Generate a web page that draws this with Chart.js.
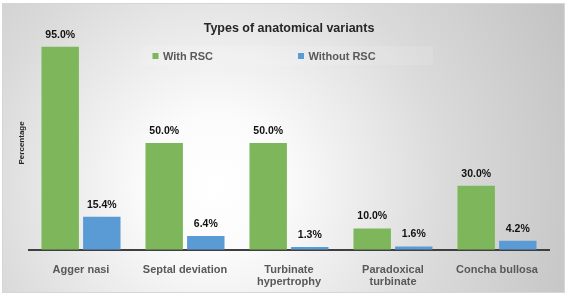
<!DOCTYPE html>
<html><head><meta charset="utf-8">
<script src="https://cdn.jsdelivr.net/npm/chart.js@4/dist/chart.umd.min.js"></script>
<style>html,body{margin:0;padding:0;background:#fff;overflow:hidden}</style>
</head><body>
<canvas id="c" width="567" height="296" style="display:block;width:567px;height:296px"></canvas>
<script>
const categories = ['Agger nasi', 'Septal deviation', ['Turbinate', 'hypertrophy'], ['Paradoxical', 'turbinate'], 'Concha bullosa'];
const withRSC = [95.0, 50.0, 50.0, 10.0, 30.0];
const withoutRSC = [15.4, 6.4, 1.3, 1.6, 4.2];
const seriesNames = ['With RSC', 'Without RSC'];
const chartTitle = 'Types of anatomical variants';
const yTitle = 'Percentage';

const FONT = "'Liberation Sans', Arial, sans-serif";
const GREEN = '#7db65b';
const BLUE = '#5b9bd5';

const bgPlugin = {
  id: 'bg',
  beforeDraw(chart) {
    const ctx = chart.ctx;
    ctx.save();
    ctx.fillStyle = '#ffffff';
    ctx.fillRect(0, 0, chart.width, chart.height);
    const g = ctx.createRadialGradient(215, 185, 0, 215, 185, 390);
    g.addColorStop(0, '#ffffff');
    g.addColorStop(0.18, '#fbfbfb');
    g.addColorStop(0.6, '#dadada');
    g.addColorStop(1, '#c3c3c3');
    ctx.fillStyle = g;
    ctx.fillRect(2, 3, 563, 290);
    ctx.strokeStyle = '#d6d6d6';
    ctx.lineWidth = 1;
    ctx.strokeRect(2.5, 3.5, 562, 289);
    ctx.restore();
  }
};

const labelPlugin = {
  id: 'vals',
  afterDatasetsDraw(chart) {
    const ctx = chart.ctx;
    ctx.save();
    ctx.font = "bold 10.5px " + FONT;
    ctx.fillStyle = '#111111';
    ctx.textAlign = 'center';
    ctx.textBaseline = 'alphabetic';
    chart.data.datasets.forEach((ds, i) => {
      const meta = chart.getDatasetMeta(i);
      meta.data.forEach((el, j) => {
        ctx.fillText(ds.data[j].toFixed(1) + '%', el.x, el.y - 9);
      });
    });
    ctx.restore();
  }
};

const legendPlugin = {
  id: 'customLegend',
  afterDraw(chart) {
    const ctx = chart.ctx;
    ctx.save();
    ctx.fillStyle = 'rgba(255,255,255,0.12)';
    ctx.fillRect(140, 46, 293, 19);
    const items = [{x: 152.5}, {x: 298}];
    ctx.font = "bold 11px " + FONT;
    ctx.textBaseline = 'middle';
    ctx.textAlign = 'left';
    chart.data.datasets.forEach((ds, i) => {
      const x = items[i].x;
      ctx.fillStyle = ds.backgroundColor;
      ctx.fillRect(x, 53, 6, 6);
      ctx.fillStyle = '#595959';
      ctx.fillText(ds.label, x + 10.5, 57);
    });
    ctx.restore();
  }
};

new Chart(document.getElementById('c'), {
  type: 'bar',
  data: {
    labels: categories,
    datasets: [
      {label: seriesNames[0], data: withRSC, backgroundColor: GREEN, borderWidth: 0},
      {label: seriesNames[1], data: withoutRSC, backgroundColor: BLUE, borderWidth: 0}
    ]
  },
  options: {
    responsive: false,
    animation: false,
    devicePixelRatio: 1,
    layout: {padding: {left: 11.4, right: 18, top: 0, bottom: -6}},
    plugins: {
      legend: {display: false},
      tooltip: {enabled: false},
      title: {
        display: true, text: chartTitle, fullSize: false,
        color: '#262626',
        font: {family: FONT, size: 12.5, weight: 'bold', lineHeight: 1.2},
        padding: {top: 21, bottom: 0}
      }
    },
    scales: {
      x: {
        categoryPercentage: 0.745,
        barPercentage: 1,
        grid: {display: false, drawTicks: false},
        border: {display: true, color: '#3f3f3f', width: 2},
        ticks: {color: '#595959', font: {family: FONT, size: 11, weight: 'bold', lineHeight: 1.1}, padding: 14, maxRotation: 0, autoSkip: false}
      },
      y: {
        min: 0, max: 100,
        grid: {display: false, drawTicks: false},
        border: {display: false},
        ticks: {display: false},
        title: {display: true, text: yTitle, color: '#262626', font: {family: FONT, size: 8, weight: 'bold'}, padding: {top: 6, bottom: 2}}
      }
    }
  },
  plugins: [bgPlugin, labelPlugin, legendPlugin]
});
</script>
</body></html>
